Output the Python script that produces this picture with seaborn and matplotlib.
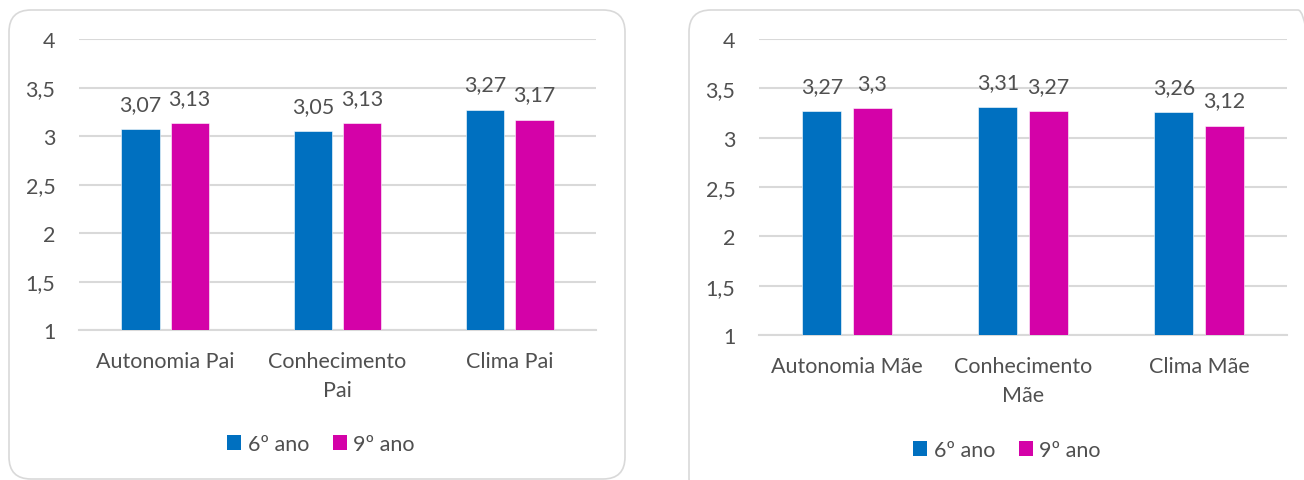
import matplotlib
matplotlib.use("Agg")
import matplotlib.pyplot as plt
import seaborn as sns
import pandas as pd
from matplotlib.patches import FancyBboxPatch, Patch

sns.set_theme(style="white")
plt.rcParams['font.family'] = ['Lato', 'DejaVu Sans']

# ---- data ----
series = ["6º ano", "9º ano"]
cats_pai = ["Autonomia Pai", "Conhecimento\nPai", "Clima Pai"]
pai_6 = [3.07, 3.05, 3.27]
pai_9 = [3.13, 3.13, 3.17]
cats_mae = ["Autonomia Mãe", "Conhecimento\nMãe", "Clima Mãe"]
mae_6 = [3.27, 3.31, 3.26]
mae_9 = [3.30, 3.27, 3.12]
yticks = [1, 1.5, 2, 2.5, 3, 3.5, 4]
ytick_labels = ["1", "1,5", "2", "2,5", "3", "3,5", "4"]

colors = ["#0070C0", "#D402A8"]
text_color = "#505050"
grid_color = "#D9D9D9"
FS = 15.5

W, H = 1304, 481
fig = plt.figure(figsize=(W / 100, H / 100), dpi=100)


def fmt(v):
    s = f"{v:.2f}".rstrip("0").rstrip(".")
    return s.replace(".", ",")


def panel(rect, cats, v6, v9, legend_xy):
    ax = fig.add_axes(rect)
    df = pd.DataFrame({
        "cat": cats * 2,
        "serie": [series[0]] * 3 + [series[1]] * 3,
        "val": v6 + v9,
    })
    sns.barplot(data=df, x="cat", y="val", hue="serie", palette=colors,
                saturation=1, width=0.57, gap=0.22, ax=ax, legend=False,
                edgecolor="white", linewidth=0.4, zorder=3)
    ax.set_ylim(1, 4)
    ax.set_yticks(yticks)
    ax.set_yticklabels(ytick_labels)
    ax.set_xlabel("")
    ax.set_ylabel("")
    ax.yaxis.grid(True, color=grid_color, linewidth=1.5, zorder=0)
    ax.set_axisbelow(True)
    for s in ["top", "right", "left"]:
        ax.spines[s].set_visible(False)
    ax.spines["bottom"].set_color(grid_color)
    ax.spines["bottom"].set_linewidth(1.5)
    ax.tick_params(axis="both", length=0, labelsize=FS, labelcolor=text_color)
    ax.tick_params(axis="y", pad=17)
    ax.tick_params(axis="x", pad=15)
    for lbl in ax.get_xticklabels():
        lbl.set_linespacing(1.6)
    for cont, vals in zip(ax.containers, [v6, v9]):
        ax.bar_label(cont, labels=[fmt(v) for v in vals], padding=11,
                     fontsize=FS, color=text_color)
    handles = [Patch(facecolor=c, edgecolor="none") for c in colors]
    fig.legend(handles, series, loc="center", bbox_to_anchor=legend_xy,
               ncol=2, frameon=False, fontsize=FS, labelcolor=text_color,
               handlelength=0.65, handleheight=0.65, handletextpad=0.3,
               columnspacing=1.1)
    return ax


panel([79 / W, 1 - 331 / H, 517 / W, 291 / H], cats_pai, pai_6, pai_9,
      (321 / W, 1 - 445 / H))
panel([759 / W, 1 - 336 / H, 528 / W, 296 / H], cats_mae, mae_6, mae_9,
      (1007 / W, 1 - 451 / H))

# rounded panel borders (pixel coords)
for (x0, y0, x1, y1) in [(9, 1, 625, 470), (689, -20, 1320, 470)]:
    box = FancyBboxPatch((x0, y0), x1 - x0, y1 - y0,
                         boxstyle="round,pad=0,rounding_size=22",
                         transform=None, facecolor="none",
                         edgecolor=grid_color, linewidth=1.2, zorder=0)
    fig.patches.append(box)

fig.savefig("out.png", dpi=100, facecolor="white")
